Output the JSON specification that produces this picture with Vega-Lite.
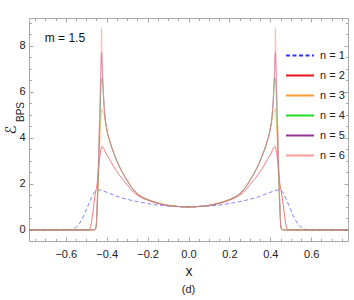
{
  "$schema": "https://vega.github.io/schema/vega-lite/v6.json",
  "width": 319,
  "height": 223,
  "autosize": {"type": "none"},
  "padding": {"left": 29, "top": 18, "right": 6, "bottom": 59},
  "title": {"text": "(d)", "orient": "bottom", "fontSize": 11, "fontWeight": "normal", "font": "Liberation Sans", "color": "#222", "offset": 6},
  "config": {
    "view": {"stroke": null},
    "font": "Liberation Sans",
    "axis": {"grid": false, "labelFont": "Liberation Sans", "labelFontSize": 11, "labelColor": "#222", "domainColor": "#a8a8a8", "tickColor": "#a8a8a8", "titleFontWeight": "normal", "titleColor": "#222"},
    "legend": {"orient": "none", "legendX": 256, "legendY": 22.5, "symbolType": "stroke", "symbolSize": 784, "symbolStrokeWidth": 2, "symbolOpacity": 1, "labelFont": "Liberation Sans", "labelFontSize": 11, "labelColor": "#222", "rowPadding": -14, "labelOffset": 5, "padding": 0}
  },
  "layer": [
    {
      "data": {"values": [
        {"s":"n = 1","x":-0.78,"y":0},{"s":"n = 1","x":-0.6,"y":0},{"s":"n = 1","x":-0.585,"y":0.006},{"s":"n = 1","x":-0.572,"y":0.025},{"s":"n = 1","x":-0.56,"y":0.06},{"s":"n = 1","x":-0.548,"y":0.13},{"s":"n = 1","x":-0.536,"y":0.25},{"s":"n = 1","x":-0.524,"y":0.42},{"s":"n = 1","x":-0.512,"y":0.63},{"s":"n = 1","x":-0.5,"y":0.88},{"s":"n = 1","x":-0.488,"y":1.12},{"s":"n = 1","x":-0.475,"y":1.38},{"s":"n = 1","x":-0.465,"y":1.57},{"s":"n = 1","x":-0.455,"y":1.69},{"s":"n = 1","x":-0.442,"y":1.74},{"s":"n = 1","x":-0.42,"y":1.7},{"s":"n = 1","x":-0.39,"y":1.6},{"s":"n = 1","x":-0.35,"y":1.46},{"s":"n = 1","x":-0.3,"y":1.33},{"s":"n = 1","x":-0.25,"y":1.23},{"s":"n = 1","x":-0.2,"y":1.15},{"s":"n = 1","x":-0.15,"y":1.08},{"s":"n = 1","x":-0.1,"y":1.035},{"s":"n = 1","x":-0.05,"y":1.01},{"s":"n = 1","x":0,"y":1},
        {"s":"n = 1","x":0.05,"y":1.01},{"s":"n = 1","x":0.1,"y":1.035},{"s":"n = 1","x":0.15,"y":1.08},{"s":"n = 1","x":0.2,"y":1.15},{"s":"n = 1","x":0.25,"y":1.23},{"s":"n = 1","x":0.3,"y":1.33},{"s":"n = 1","x":0.35,"y":1.46},{"s":"n = 1","x":0.39,"y":1.6},{"s":"n = 1","x":0.42,"y":1.7},{"s":"n = 1","x":0.442,"y":1.74},{"s":"n = 1","x":0.455,"y":1.69},{"s":"n = 1","x":0.465,"y":1.57},{"s":"n = 1","x":0.475,"y":1.38},{"s":"n = 1","x":0.488,"y":1.12},{"s":"n = 1","x":0.5,"y":0.88},{"s":"n = 1","x":0.512,"y":0.63},{"s":"n = 1","x":0.524,"y":0.42},{"s":"n = 1","x":0.536,"y":0.25},{"s":"n = 1","x":0.548,"y":0.13},{"s":"n = 1","x":0.56,"y":0.06},{"s":"n = 1","x":0.572,"y":0.025},{"s":"n = 1","x":0.585,"y":0.006},{"s":"n = 1","x":0.6,"y":0},{"s":"n = 1","x":0.78,"y":0},

        {"s":"n = 2","x":-0.78,"y":0},{"s":"n = 2","x":-0.49,"y":0},{"s":"n = 2","x":-0.482,"y":0.06},{"s":"n = 2","x":-0.476,"y":0.25},{"s":"n = 2","x":-0.47,"y":0.6},{"s":"n = 2","x":-0.463,"y":1.1},{"s":"n = 2","x":-0.456,"y":1.55},{"s":"n = 2","x":-0.447,"y":2.0},{"s":"n = 2","x":-0.44,"y":2.6},{"s":"n = 2","x":-0.434,"y":3.15},{"s":"n = 2","x":-0.428,"y":3.5},{"s":"n = 2","x":-0.423,"y":3.62},{"s":"n = 2","x":-0.418,"y":3.58},{"s":"n = 2","x":-0.41,"y":3.45},{"s":"n = 2","x":-0.399,"y":3.25},{"s":"n = 2","x":-0.385,"y":3.05},{"s":"n = 2","x":-0.366,"y":2.75},{"s":"n = 2","x":-0.335,"y":2.35},{"s":"n = 2","x":-0.3,"y":1.96},{"s":"n = 2","x":-0.27,"y":1.65},{"s":"n = 2","x":-0.235,"y":1.43},{"s":"n = 2","x":-0.2,"y":1.29},{"s":"n = 2","x":-0.15,"y":1.15},{"s":"n = 2","x":-0.1,"y":1.06},{"s":"n = 2","x":-0.05,"y":1.015},{"s":"n = 2","x":0,"y":1},
        {"s":"n = 2","x":0.05,"y":1.015},{"s":"n = 2","x":0.1,"y":1.06},{"s":"n = 2","x":0.15,"y":1.15},{"s":"n = 2","x":0.2,"y":1.29},{"s":"n = 2","x":0.235,"y":1.43},{"s":"n = 2","x":0.27,"y":1.65},{"s":"n = 2","x":0.3,"y":1.96},{"s":"n = 2","x":0.335,"y":2.35},{"s":"n = 2","x":0.366,"y":2.75},{"s":"n = 2","x":0.385,"y":3.05},{"s":"n = 2","x":0.399,"y":3.25},{"s":"n = 2","x":0.41,"y":3.45},{"s":"n = 2","x":0.418,"y":3.58},{"s":"n = 2","x":0.423,"y":3.62},{"s":"n = 2","x":0.428,"y":3.5},{"s":"n = 2","x":0.434,"y":3.15},{"s":"n = 2","x":0.44,"y":2.6},{"s":"n = 2","x":0.447,"y":2.0},{"s":"n = 2","x":0.456,"y":1.55},{"s":"n = 2","x":0.463,"y":1.1},{"s":"n = 2","x":0.47,"y":0.6},{"s":"n = 2","x":0.476,"y":0.25},{"s":"n = 2","x":0.482,"y":0.06},{"s":"n = 2","x":0.49,"y":0},{"s":"n = 2","x":0.78,"y":0},

        {"s":"n = 3","x":-0.78,"y":0},{"s":"n = 3","x":-0.465,"y":0},{"s":"n = 3","x":-0.456,"y":0.02},{"s":"n = 3","x":-0.451,"y":0.2},{"s":"n = 3","x":-0.447,"y":0.8},{"s":"n = 3","x":-0.442,"y":1.8},{"s":"n = 3","x":-0.437,"y":3.0},{"s":"n = 3","x":-0.432,"y":4.2},{"s":"n = 3","x":-0.427,"y":5.0},{"s":"n = 3","x":-0.423,"y":5.25},{"s":"n = 3","x":-0.419,"y":5.2},{"s":"n = 3","x":-0.414,"y":5.05},{"s":"n = 3","x":-0.408,"y":4.75},{"s":"n = 3","x":-0.399,"y":4.3},{"s":"n = 3","x":-0.385,"y":3.85},{"s":"n = 3","x":-0.366,"y":3.35},{"s":"n = 3","x":-0.335,"y":2.7},{"s":"n = 3","x":-0.3,"y":2.15},{"s":"n = 3","x":-0.27,"y":1.75},{"s":"n = 3","x":-0.235,"y":1.47},{"s":"n = 3","x":-0.2,"y":1.32},{"s":"n = 3","x":-0.15,"y":1.17},{"s":"n = 3","x":-0.1,"y":1.07},{"s":"n = 3","x":-0.05,"y":1.02},{"s":"n = 3","x":0,"y":1},
        {"s":"n = 3","x":0.05,"y":1.02},{"s":"n = 3","x":0.1,"y":1.07},{"s":"n = 3","x":0.15,"y":1.17},{"s":"n = 3","x":0.2,"y":1.32},{"s":"n = 3","x":0.235,"y":1.47},{"s":"n = 3","x":0.27,"y":1.75},{"s":"n = 3","x":0.3,"y":2.15},{"s":"n = 3","x":0.335,"y":2.7},{"s":"n = 3","x":0.366,"y":3.35},{"s":"n = 3","x":0.385,"y":3.85},{"s":"n = 3","x":0.399,"y":4.3},{"s":"n = 3","x":0.408,"y":4.75},{"s":"n = 3","x":0.414,"y":5.05},{"s":"n = 3","x":0.419,"y":5.2},{"s":"n = 3","x":0.423,"y":5.25},{"s":"n = 3","x":0.427,"y":5.0},{"s":"n = 3","x":0.432,"y":4.2},{"s":"n = 3","x":0.437,"y":3.0},{"s":"n = 3","x":0.442,"y":1.8},{"s":"n = 3","x":0.447,"y":0.8},{"s":"n = 3","x":0.451,"y":0.2},{"s":"n = 3","x":0.456,"y":0.02},{"s":"n = 3","x":0.465,"y":0},{"s":"n = 3","x":0.78,"y":0},

        {"s":"n = 4","x":-0.78,"y":0},{"s":"n = 4","x":-0.465,"y":0},{"s":"n = 4","x":-0.456,"y":0.02},{"s":"n = 4","x":-0.451,"y":0.2},{"s":"n = 4","x":-0.447,"y":0.95},{"s":"n = 4","x":-0.442,"y":2.2},{"s":"n = 4","x":-0.437,"y":3.7},{"s":"n = 4","x":-0.432,"y":5.1},{"s":"n = 4","x":-0.427,"y":6.3},{"s":"n = 4","x":-0.423,"y":6.6},{"s":"n = 4","x":-0.419,"y":6.2},{"s":"n = 4","x":-0.414,"y":5.5},{"s":"n = 4","x":-0.408,"y":4.9},{"s":"n = 4","x":-0.399,"y":4.35},{"s":"n = 4","x":-0.385,"y":3.85},{"s":"n = 4","x":-0.366,"y":3.35},{"s":"n = 4","x":-0.335,"y":2.7},{"s":"n = 4","x":-0.3,"y":2.15},{"s":"n = 4","x":-0.27,"y":1.75},{"s":"n = 4","x":-0.235,"y":1.47},{"s":"n = 4","x":-0.2,"y":1.32},{"s":"n = 4","x":-0.15,"y":1.17},{"s":"n = 4","x":-0.1,"y":1.07},{"s":"n = 4","x":-0.05,"y":1.02},{"s":"n = 4","x":0,"y":1},
        {"s":"n = 4","x":0.05,"y":1.02},{"s":"n = 4","x":0.1,"y":1.07},{"s":"n = 4","x":0.15,"y":1.17},{"s":"n = 4","x":0.2,"y":1.32},{"s":"n = 4","x":0.235,"y":1.47},{"s":"n = 4","x":0.27,"y":1.75},{"s":"n = 4","x":0.3,"y":2.15},{"s":"n = 4","x":0.335,"y":2.7},{"s":"n = 4","x":0.366,"y":3.35},{"s":"n = 4","x":0.385,"y":3.85},{"s":"n = 4","x":0.399,"y":4.35},{"s":"n = 4","x":0.408,"y":4.9},{"s":"n = 4","x":0.414,"y":5.5},{"s":"n = 4","x":0.419,"y":6.2},{"s":"n = 4","x":0.423,"y":6.6},{"s":"n = 4","x":0.427,"y":6.3},{"s":"n = 4","x":0.432,"y":5.1},{"s":"n = 4","x":0.437,"y":3.7},{"s":"n = 4","x":0.442,"y":2.2},{"s":"n = 4","x":0.447,"y":0.95},{"s":"n = 4","x":0.451,"y":0.2},{"s":"n = 4","x":0.456,"y":0.02},{"s":"n = 4","x":0.465,"y":0},{"s":"n = 4","x":0.78,"y":0},

        {"s":"n = 5","x":-0.78,"y":0},{"s":"n = 5","x":-0.465,"y":0},{"s":"n = 5","x":-0.456,"y":0.02},{"s":"n = 5","x":-0.451,"y":0.2},{"s":"n = 5","x":-0.447,"y":1.0},{"s":"n = 5","x":-0.442,"y":2.4},{"s":"n = 5","x":-0.437,"y":4.0},{"s":"n = 5","x":-0.432,"y":5.6},{"s":"n = 5","x":-0.428,"y":7.0},{"s":"n = 5","x":-0.425,"y":7.7},{"s":"n = 5","x":-0.4225,"y":7.3},{"s":"n = 5","x":-0.419,"y":6.5},{"s":"n = 5","x":-0.414,"y":5.6},{"s":"n = 5","x":-0.408,"y":4.9},{"s":"n = 5","x":-0.399,"y":4.35},{"s":"n = 5","x":-0.385,"y":3.85},{"s":"n = 5","x":-0.366,"y":3.35},{"s":"n = 5","x":-0.335,"y":2.7},{"s":"n = 5","x":-0.3,"y":2.15},{"s":"n = 5","x":-0.27,"y":1.75},{"s":"n = 5","x":-0.235,"y":1.47},{"s":"n = 5","x":-0.2,"y":1.32},{"s":"n = 5","x":-0.15,"y":1.17},{"s":"n = 5","x":-0.1,"y":1.07},{"s":"n = 5","x":-0.05,"y":1.02},{"s":"n = 5","x":0,"y":1},
        {"s":"n = 5","x":0.05,"y":1.02},{"s":"n = 5","x":0.1,"y":1.07},{"s":"n = 5","x":0.15,"y":1.17},{"s":"n = 5","x":0.2,"y":1.32},{"s":"n = 5","x":0.235,"y":1.47},{"s":"n = 5","x":0.27,"y":1.75},{"s":"n = 5","x":0.3,"y":2.15},{"s":"n = 5","x":0.335,"y":2.7},{"s":"n = 5","x":0.366,"y":3.35},{"s":"n = 5","x":0.385,"y":3.85},{"s":"n = 5","x":0.399,"y":4.35},{"s":"n = 5","x":0.408,"y":4.9},{"s":"n = 5","x":0.414,"y":5.6},{"s":"n = 5","x":0.419,"y":6.5},{"s":"n = 5","x":0.4225,"y":7.3},{"s":"n = 5","x":0.425,"y":7.7},{"s":"n = 5","x":0.428,"y":7.0},{"s":"n = 5","x":0.432,"y":5.6},{"s":"n = 5","x":0.437,"y":4.0},{"s":"n = 5","x":0.442,"y":2.4},{"s":"n = 5","x":0.447,"y":1.0},{"s":"n = 5","x":0.451,"y":0.2},{"s":"n = 5","x":0.456,"y":0.02},{"s":"n = 5","x":0.465,"y":0},{"s":"n = 5","x":0.78,"y":0},

        {"s":"n = 6","x":-0.78,"y":0},{"s":"n = 6","x":-0.465,"y":0},{"s":"n = 6","x":-0.456,"y":0.03},{"s":"n = 6","x":-0.451,"y":0.25},{"s":"n = 6","x":-0.447,"y":1.1},{"s":"n = 6","x":-0.442,"y":2.6},{"s":"n = 6","x":-0.437,"y":4.3},{"s":"n = 6","x":-0.432,"y":6.0},{"s":"n = 6","x":-0.428,"y":7.5},{"s":"n = 6","x":-0.425,"y":8.75},{"s":"n = 6","x":-0.4225,"y":7.7},{"s":"n = 6","x":-0.419,"y":6.6},{"s":"n = 6","x":-0.414,"y":5.6},{"s":"n = 6","x":-0.408,"y":4.9},{"s":"n = 6","x":-0.399,"y":4.35},{"s":"n = 6","x":-0.385,"y":3.85},{"s":"n = 6","x":-0.366,"y":3.35},{"s":"n = 6","x":-0.335,"y":2.7},{"s":"n = 6","x":-0.3,"y":2.15},{"s":"n = 6","x":-0.27,"y":1.75},{"s":"n = 6","x":-0.235,"y":1.47},{"s":"n = 6","x":-0.2,"y":1.32},{"s":"n = 6","x":-0.15,"y":1.17},{"s":"n = 6","x":-0.1,"y":1.07},{"s":"n = 6","x":-0.05,"y":1.02},{"s":"n = 6","x":0,"y":1},
        {"s":"n = 6","x":0.05,"y":1.02},{"s":"n = 6","x":0.1,"y":1.07},{"s":"n = 6","x":0.15,"y":1.17},{"s":"n = 6","x":0.2,"y":1.32},{"s":"n = 6","x":0.235,"y":1.47},{"s":"n = 6","x":0.27,"y":1.75},{"s":"n = 6","x":0.3,"y":2.15},{"s":"n = 6","x":0.335,"y":2.7},{"s":"n = 6","x":0.366,"y":3.35},{"s":"n = 6","x":0.385,"y":3.85},{"s":"n = 6","x":0.399,"y":4.35},{"s":"n = 6","x":0.408,"y":4.9},{"s":"n = 6","x":0.414,"y":5.6},{"s":"n = 6","x":0.419,"y":6.6},{"s":"n = 6","x":0.4225,"y":7.7},{"s":"n = 6","x":0.425,"y":8.75},{"s":"n = 6","x":0.428,"y":7.5},{"s":"n = 6","x":0.432,"y":6.0},{"s":"n = 6","x":0.437,"y":4.3},{"s":"n = 6","x":0.442,"y":2.6},{"s":"n = 6","x":0.447,"y":1.1},{"s":"n = 6","x":0.451,"y":0.25},{"s":"n = 6","x":0.456,"y":0.03},{"s":"n = 6","x":0.465,"y":0},{"s":"n = 6","x":0.78,"y":0}
      ]},
      "mark": {"type": "line", "strokeWidth": 1, "interpolate": "monotone", "opacity": 0.6, "clip": true},
      "encoding": {
        "x": {"field": "x", "type": "quantitative", "scale": {"domain": [-0.78, 0.78], "nice": false, "zero": false},
              "axis": {"orient": "bottom", "values": [-0.6, -0.4, -0.2, 0, 0.2, 0.4, 0.6], "format": ".1f", "tickSize": -4, "labelPadding": 11, "title": "x", "titleFontSize": 14, "titleFont": "Liberation Sans", "titlePadding": 5}},
        "y": {"field": "y", "type": "quantitative", "scale": {"domain": [-0.48, 9.2], "nice": false, "zero": false},
              "axis": {"orient": "left", "values": [0, 2, 4, 6, 8], "format": "d", "tickSize": -4, "labelPadding": 8, "title": "ℰ", "titleFontSize": 15, "titleFont": "DejaVu Sans", "titlePadding": 0}},
        "color": {"field": "s", "type": "nominal", "scale": {"domain": ["n = 1", "n = 2", "n = 3", "n = 4", "n = 5", "n = 6"], "range": ["#2f2fff", "#e8141c", "#ff9933", "#22dd22", "#993399", "#ff9a9a"]}, "legend": {"title": null}},
        "strokeDash": {"field": "s", "type": "nominal", "scale": {"domain": ["n = 1", "n = 2", "n = 3", "n = 4", "n = 5", "n = 6"], "range": [[4, 2.5], [1, 0], [1, 0], [1, 0], [1, 0], [1, 0]]}, "legend": {"title": null}}
      }
    },
    {
      "data": {"values": [{"x": -0.703, "y": 8.35, "t": "m = 1.5"}]},
      "mark": {"type": "text", "align": "left", "baseline": "middle", "fontSize": 12, "font": "Liberation Sans", "color": "#111"},
      "encoding": {
        "x": {"field": "x", "type": "quantitative", "axis": {"orient": "top", "values": [-0.6, -0.4, -0.2, 0, 0.2, 0.4, 0.6], "labels": false, "tickSize": -4, "title": null}},
        "y": {"field": "y", "type": "quantitative", "axis": {"orient": "right", "values": [0, 2, 4, 6, 8], "labels": false, "tickSize": -4, "title": null}},
        "text": {"field": "t"}
      }
    },
    {
      "data": {"values": [{"x": -0.82, "y": 5.12, "t": "BPS"}]},
      "mark": {"type": "text", "align": "center", "baseline": "middle", "angle": 270, "fontSize": 10, "font": "Liberation Sans", "color": "#222"},
      "encoding": {
        "x": {"field": "x", "type": "quantitative", "axis": {"orient": "bottom", "values": [-0.75,-0.7,-0.65,-0.6,-0.55,-0.5,-0.45,-0.4,-0.35,-0.3,-0.25,-0.2,-0.15,-0.1,-0.05,0,0.05,0.1,0.15,0.2,0.25,0.3,0.35,0.4,0.45,0.5,0.55,0.6,0.65,0.7,0.75], "labels": false, "domain": false, "tickSize": -2.5, "title": null}},
        "y": {"field": "y", "type": "quantitative", "axis": {"orient": "left", "values": [0,0.5,1,1.5,2,2.5,3,3.5,4,4.5,5,5.5,6,6.5,7,7.5,8,8.5,9], "labels": false, "domain": false, "tickSize": -2.5, "title": null}},
        "text": {"field": "t"}
      }
    },
    {
      "data": {"values": [{"x": 0, "y": 0}]},
      "mark": {"type": "point", "opacity": 0},
      "encoding": {
        "x": {"field": "x", "type": "quantitative", "axis": {"orient": "top", "values": [-0.75,-0.7,-0.65,-0.6,-0.55,-0.5,-0.45,-0.4,-0.35,-0.3,-0.25,-0.2,-0.15,-0.1,-0.05,0,0.05,0.1,0.15,0.2,0.25,0.3,0.35,0.4,0.45,0.5,0.55,0.6,0.65,0.7,0.75], "labels": false, "domain": false, "tickSize": -2.5, "title": null}},
        "y": {"field": "y", "type": "quantitative", "axis": {"orient": "right", "values": [0,0.5,1,1.5,2,2.5,3,3.5,4,4.5,5,5.5,6,6.5,7,7.5,8,8.5,9], "labels": false, "domain": false, "tickSize": -2.5, "title": null}}
      }
    }
  ],
  "resolve": {"axis": {"x": "independent", "y": "independent"}}
}
